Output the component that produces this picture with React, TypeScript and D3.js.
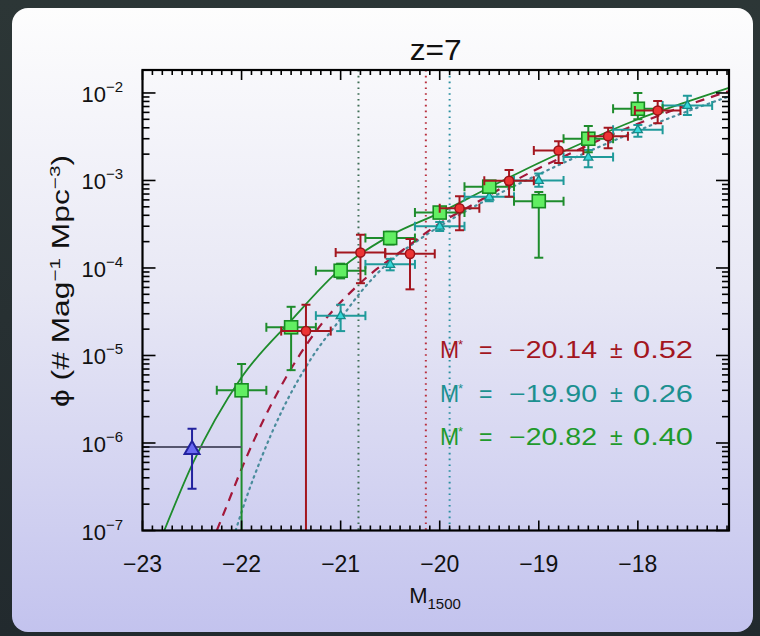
import React from 'react';
import * as d3 from 'd3';

// ---------- data ----------
const xDomain = [-23, -17.08];
const yDomain = [1e-7, 0.0183];
const xTickLabels = [-23, -22, -21, -20, -19, -18];
const yTickExps = [-7, -6, -5, -4, -3, -2];

// green squares
const greenM = [-22.0, -21.5, -21.0, -20.5, -20.0, -19.5, -19.0, -18.5, -18.0];
const greenPhi = [4.0e-6, 2.1e-5, 9.3e-5, 2.2e-4, 4.3e-4, 8.5e-4, 5.8e-4, 3.0e-3, 6.6e-3];
const greenHi = [8.0e-6, 3.6e-5, 1.12e-4, 2.6e-4, 4.9e-4, 9.8e-4, 7.4e-4, 4.2e-3, 1.0e-2];
const greenLo = [null, 6.8e-6, 7.6e-5, 1.86e-4, 3.75e-4, 7.3e-4, 1.31e-4, 2.1e-3, 5.0e-3];
const greenDM = [0.25, 0.25, 0.25, 0.25, 0.25, 0.25, 0.25, 0.25, 0.25];

// red circles
const redM = [-21.35, -20.8, -20.3, -19.8, -19.3, -18.8, -18.3, -17.8];
const redPhi = [1.9e-5, 1.5e-4, 1.45e-4, 4.8e-4, 9.9e-4, 2.2e-3, 3.2e-3, 6.3e-3];
const redHi = [3.8e-5, 2.4e-4, 2.15e-4, 6.6e-4, 1.32e-3, 2.8e-3, 4.0e-3, 8.1e-3];
const redLo = [null, 6.7e-5, 5.7e-5, 2.7e-4, 6.5e-4, 1.58e-3, 2.33e-3, 4.5e-3];
const redDM = [0.25, 0.25, 0.25, 0.2, 0.25, 0.25, 0.2, 0.23];

// teal triangles
const tealM = [-21.0, -20.5, -20.0, -19.5, -19.0, -18.5, -18.0, -17.5];
const tealPhi = [2.85e-5, 1.1e-4, 3.0e-4, 6.5e-4, 1.0e-3, 1.85e-3, 3.8e-3, 7.2e-3];
const tealHi = [3.8e-5, 1.27e-4, 3.35e-4, 7.3e-4, 1.2e-3, 2.23e-3, 4.3e-3, 9.3e-3];
const tealLo = [1.9e-5, 9.4e-5, 2.65e-4, 5.8e-4, 8.5e-4, 1.42e-3, 3.16e-3, 5.6e-3];
const tealDM = [0.25, 0.25, 0.25, 0.25, 0.25, 0.25, 0.25, 0.25];

// blue triangle
const blueM = [-22.5];
const bluePhi = [9.0e-7];
const blueHi = [1.45e-6];
const blueLo = [3.0e-7];
const blueMlo = [-23.0];
const blueMhi = [-22.0];

// fitted curves (M, log10 phi)
const greenCurveM = [-22.78, -22.5, -22.0, -21.5, -21.0, -20.5, -20.0, -19.5, -19.0, -18.5, -18.0, -17.5, -17.08];
const greenCurveLog = [-7.0, -6.25, -5.25, -4.6, -4.01, -3.63, -3.37, -3.08, -2.8, -2.54, -2.3, -2.1, -1.94];
const redCurveM = [-22.25, -22.15, -22.02, -21.78, -21.51, -21.24, -20.8, -20.33, -20.08, -19.61, -19.19, -18.7, -18.25, -17.7, -17.08];
const redCurveLog = [-7.0, -6.72, -6.35, -5.74, -5.17, -4.71, -4.17, -3.76, -3.55, -3.24, -2.97, -2.7, -2.47, -2.22, -1.98];
const tealCurveM = [-22.06, -21.95, -21.8, -21.6, -21.3, -21.0, -20.8, -20.5, -20.2, -19.8, -19.4, -19.0, -18.5, -18.0, -17.5, -17.08];
const tealCurveLog = [-7.0, -6.62, -6.17, -5.65, -5.04, -4.58, -4.28, -3.92, -3.67, -3.39, -3.15, -2.93, -2.67, -2.43, -2.21, -2.04];

// M* fit values
const mStarValues = [-20.14, -19.9, -20.82];
const mStarErrors = [0.52, 0.26, 0.4];

// ---------- styles ----------
const C_GREEN = '#1e8c2c';
const C_RED = '#a3161f';
const C_TEAL = '#1f9a9a';
const C_BLUE = '#22229e';
const mStarColors = [C_RED, '#1c9090', '#1f9a2c'];
const mStarLineColors = ['#b8303e', '#2a90a0', '#3f6e55'];
const FONT = '"Liberation Sans", Arial, sans-serif';

const L = 142.5, R = 729, T = 70, B = 530.5;

export default function App() {
  const x = d3.scaleLinear().domain(xDomain).range([L, R]);
  const y = d3.scaleLog().domain(yDomain).range([B, T]);

  const line = d3
    .line<[number, number]>()
    .x((d) => x(d[0]))
    .y((d) => y(Math.pow(10, d[1])))
    .curve(d3.curveMonotoneX);

  const zip = (a: number[], b: number[]) => a.map((v, i) => [v, b[i]] as [number, number]);

  const errBars = (
    ms: number[], phis: number[], his: number[], los: (number | null)[], dms: number[],
    color: string, key: string
  ) =>
    ms.map((m, i) => {
      const cx = x(m), cy = y(phis[i]);
      const yh = y(his[i]);
      const yl = los[i] == null ? B + 5 : y(los[i] as number);
      const x0 = x(m - dms[i]), x1 = x(m + dms[i]);
      const cap = 4.5;
      return (
        <g key={key + i} stroke={color} strokeWidth={2} fill="none">
          <line x1={cx} y1={yh} x2={cx} y2={yl} />
          <line x1={cx - cap} y1={yh} x2={cx + cap} y2={yh} />
          {los[i] != null && <line x1={cx - cap} y1={yl} x2={cx + cap} y2={yl} />}
          <line x1={x0} y1={cy} x2={x1} y2={cy} />
          <line x1={x0} y1={cy - cap} x2={x0} y2={cy + cap} />
          <line x1={x1} y1={cy - cap} x2={x1} y2={cy + cap} />
        </g>
      );
    });

  const tri = (cx: number, cy: number, s: number) => {
    const h = s * 0.866;
    return `M${cx},${cy - h * 0.62}L${cx + s / 2},${cy + h * 0.38}L${cx - s / 2},${cy + h * 0.38}Z`;
  };

  // ticks
  const xTicks: { v: number; major: boolean }[] = [];
  for (let i = 0; i <= 59; i++) xTicks.push({ v: -23 + i * 0.1, major: i % 10 === 0 });
  const yTicks: { v: number; major: boolean }[] = [];
  yTickExps.forEach((e) => {
    for (let k = 1; k <= 9; k++) {
      const v = k * Math.pow(10, e);
      if (v <= yDomain[1]) yTicks.push({ v, major: k === 1 });
    }
  });

  const fmt = (v: number) => (v < 0 ? '\u2212' : '') + Math.abs(v).toFixed(2);
  const legendY = [358, 402, 445];

  return (
    <svg width={760} height={636} style={{ position: 'absolute', left: 0, top: 0 }}>
      <defs>
        <linearGradient id="panel" x1="0" y1="0" x2="0" y2="1">
          <stop offset="0" stopColor="#fdfdfd" />
          <stop offset="0.45" stopColor="#e8e8f5" />
          <stop offset="1" stopColor="#c3c3ee" />
        </linearGradient>
        <linearGradient id="outer" x1="0" y1="0" x2="0" y2="1">
          <stop offset="0" stopColor="#2c3636" />
          <stop offset="1" stopColor="#222a2e" />
        </linearGradient>
        <clipPath id="plotClip">
          <rect x={L} y={T} width={R - L} height={B - T} />
        </clipPath>
      </defs>
      <rect x={0} y={0} width={760} height={636} fill="url(#outer)" />
      <rect x={12} y={8} width={741} height={624} rx={16} fill="url(#panel)" />

      {/* title */}
      <text x={(L + R) / 2} y={60} textAnchor="middle" fontFamily={FONT} fontSize={30} fill="#111"
        textLength={52} lengthAdjust="spacingAndGlyphs">
        z=7
      </text>

      <g clipPath="url(#plotClip)">
        {/* vertical M* lines */}
        {mStarValues.map((m, i) => (
          <line key={'vl' + i} x1={x(m)} x2={x(m)} y1={T} y2={B} stroke={mStarLineColors[i]}
            strokeWidth={2} strokeDasharray="1.6,4.2" />
        ))}
        {/* curves */}
        <path d={line(zip(tealCurveM, tealCurveLog)) || ''} fill="none" stroke="#4a8c9c" strokeWidth={2.2}
          strokeDasharray="1.6,4.6" strokeLinecap="round" />
        <path d={line(zip(redCurveM, redCurveLog)) || ''} fill="none" stroke="#a3183a" strokeWidth={2.2}
          strokeDasharray="9,7" />
        <path d={line(zip(greenCurveM, greenCurveLog)) || ''} fill="none" stroke={C_GREEN} strokeWidth={1.8} />

        {/* teal */}
        {errBars(tealM, tealPhi, tealHi, tealLo, tealDM, C_TEAL, 't')}
        {tealM.map((m, i) => (
          <path key={'tm' + i} d={tri(x(m), y(tealPhi[i]), 9)} fill="#35d8d8" stroke="#178a8a" strokeWidth={1.3} />
        ))}
        {/* green */}
        {errBars(greenM, greenPhi, greenHi, greenLo, greenDM, C_GREEN, 'g')}
        {greenM.map((m, i) => (
          <rect key={'gm' + i} x={x(m) - 6.5} y={y(greenPhi[i]) - 6.5} width={13} height={13}
            fill="#62ee62" stroke="#178a22" strokeWidth={1.6} />
        ))}
        {/* red */}
        {errBars(redM, redPhi, redHi, redLo, redDM, C_RED, 'r')}
        {redM.map((m, i) => (
          <circle key={'rm' + i} cx={x(m)} cy={y(redPhi[i])} r={4.6} fill="#ec3434" stroke="#9a1218" strokeWidth={1.5} />
        ))}
        {/* blue */}
        {blueM.map((m, i) => {
          const cx = x(m), cy = y(bluePhi[i]);
          const yh = y(blueHi[i]), yl = y(blueLo[i]);
          return (
            <g key={'b' + i}>
              <line x1={x(blueMlo[i])} x2={x(blueMhi[i])} y1={cy} y2={cy} stroke="#55556e" strokeWidth={2} />
              <g stroke={C_BLUE} strokeWidth={2}>
                <line x1={cx} x2={cx} y1={yh} y2={yl} />
                <line x1={cx - 4.5} x2={cx + 4.5} y1={yh} y2={yh} />
                <line x1={cx - 4.5} x2={cx + 4.5} y1={yl} y2={yl} />
              </g>
              <path d={tri(cx, cy + 2, 15)} fill="#6a6af2" stroke={C_BLUE} strokeWidth={2} />
            </g>
          );
        })}
      </g>

      {/* axes box and ticks */}
      <g stroke="#000" strokeWidth={1.6}>
        {xTicks.map((t, i) => {
          const len = t.major ? 10 : 5;
          const px = x(t.v);
          return (
            <g key={'xt' + i}>
              <line x1={px} x2={px} y1={B} y2={B - len} />
              <line x1={px} x2={px} y1={T} y2={T + len} />
            </g>
          );
        })}
        {yTicks.map((t, i) => {
          const len = t.major ? 13 : 7;
          const py = y(t.v);
          return (
            <g key={'yt' + i}>
              <line x1={L} x2={L + len} y1={py} y2={py} />
              <line x1={R} x2={R - len} y1={py} y2={py} />
            </g>
          );
        })}
      </g>
      <rect x={L} y={T} width={R - L} height={B - T} fill="none" stroke="#000" strokeWidth={2.2} />

      {/* x tick labels */}
      {xTickLabels.map((v) => (
        <text key={'xl' + v} x={x(v)} y={572} textAnchor="middle" fontFamily={FONT} fontSize={23} fill="#111">
          {'\u2212' + Math.abs(v)}
        </text>
      ))}
      {/* y tick labels */}
      {yTickExps.map((e) => (
        <text key={'yl' + e} x={123} y={y(Math.pow(10, e)) + 9} textAnchor="end" fontFamily={FONT} fontSize={22} fill="#111">
          10
          <tspan fontSize={15} dy={-10}>{'\u2212' + Math.abs(e)}</tspan>
        </text>
      ))}

      {/* axis titles */}
      <text x={435} y={603} textAnchor="middle" fontFamily={FONT} fontSize={22} fill="#111">
        M<tspan fontSize={15} dy={6}>1500</tspan>
      </text>
      <text transform="translate(69,281) rotate(-90)" textAnchor="middle" fontFamily={FONT} fontSize={23} fill="#111"
        textLength={252} lengthAdjust="spacingAndGlyphs">
        {'\u03D5 (# Mag'}
        <tspan fontSize={15} dy={-9}>{'\u22121'}</tspan>
        <tspan dy={9}>{' Mpc'}</tspan>
        <tspan fontSize={15} dy={-9}>{'\u22123'}</tspan>
        <tspan dy={9}>{')'}</tspan>
      </text>

      {/* legend */}
      {mStarValues.map((m, i) => (
        <g key={'lg' + i} fill={mStarColors[i]} fontFamily={FONT} fontSize={23}>
          <text x={440} y={legendY[i]}>M</text>
          <text x={458} y={legendY[i] - 9} fontSize={13}>*</text>
          <text x={479} y={legendY[i]}>=</text>
          <text x={509} y={legendY[i]} textLength={88} lengthAdjust="spacingAndGlyphs">{fmt(m)}</text>
          <text x={610} y={legendY[i]}>±</text>
          <text x={633} y={legendY[i]} textLength={60} lengthAdjust="spacingAndGlyphs">{mStarErrors[i].toFixed(2)}</text>
        </g>
      ))}
    </svg>
  );
}
